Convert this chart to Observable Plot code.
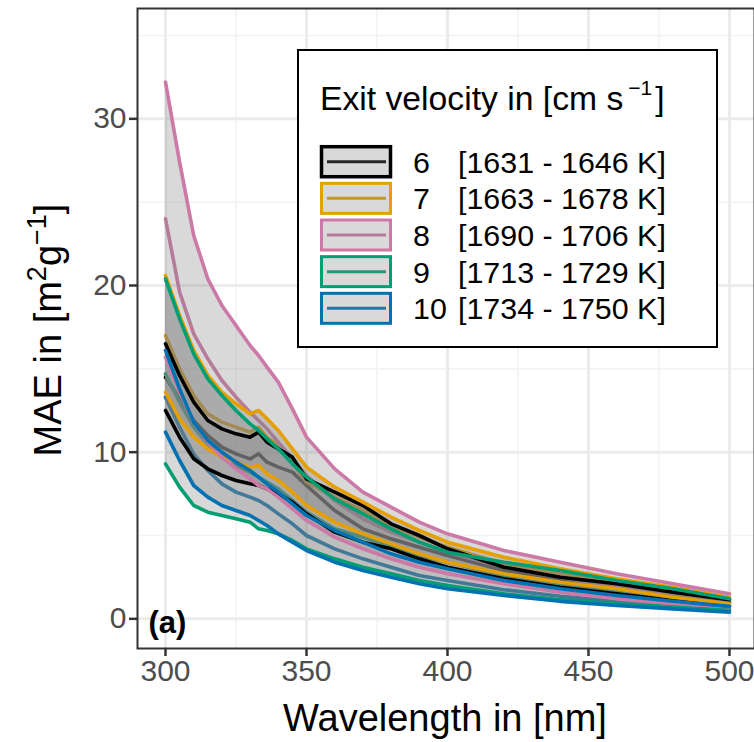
<!DOCTYPE html>
<html><head><meta charset="utf-8">
<script src="https://cdn.jsdelivr.net/npm/d3@7"></script>
<script src="https://cdn.jsdelivr.net/npm/@observablehq/plot@0.6"></script>
<style>
html,body{margin:0;padding:0;background:#fff;}
#chart svg{display:block;}
</style>
</head><body><div id="chart"></div>
<script>
// ---------- data ----------
const wavelength = [300,305,310,315,320,325,330,333,336,340,345,350,360,370,380,390,400,420,440,460,480,500];
const seriesNames = ["6","7","8","9","10"];
const seriesRanges = ["[1631 - 1646 K]","[1663 - 1678 K]","[1690 - 1706 K]","[1713 - 1729 K]","[1734 - 1750 K]"];
const seriesColors = ["#000000","#E69F00","#CC79A7","#009E73","#0072B2"];
const xTicks = [300,350,400,450,500];
const xMinor = [325,375,425,475];
const yTicks = [0,10,20,30];
const yMinor = [5,15,25,35];

const upper6 = [16.5,14.6,13.0,11.9,11.4,11.1,10.9,11.2,10.6,10.2,9.7,8.4,7.6,6.8,5.7,5.0,4.2,3.1,2.5,2.1,1.6,1.15];
const mean6  = [14.5,13.2,11.9,11.0,10.3,9.9,9.6,9.9,9.4,9.1,8.8,8.0,6.5,5.4,4.8,4.3,3.8,2.9,2.3,1.8,1.4,1.0];
const lower6 = [12.5,10.9,9.6,9.0,8.6,8.3,8.1,8.0,7.8,7.5,7.0,6.3,5.2,4.6,4.2,3.6,3.1,2.4,1.9,1.5,1.1,0.8];

const upper7 = [20.6,18.2,16.1,14.6,13.6,12.9,12.3,12.5,12.0,11.3,10.2,9.1,7.9,7.0,6.1,5.3,4.6,3.7,3.0,2.4,1.9,1.3];
const mean7  = [17.0,15.0,13.4,12.3,11.8,11.5,11.2,11.5,10.9,10.4,9.4,8.2,7.3,6.5,5.6,4.9,4.3,3.3,2.7,2.1,1.6,1.15];
const lower7 = [13.6,12.0,10.9,10.2,9.7,9.4,9.1,9.2,8.7,8.3,7.6,6.8,5.8,5.1,4.5,3.9,3.4,2.7,2.2,1.8,1.3,0.9];

const upper8 = [32.2,27.4,23.0,20.4,18.8,17.6,16.4,15.8,15.1,14.2,12.6,10.9,9.0,7.6,6.7,5.8,5.1,4.1,3.4,2.7,2.1,1.5];
const mean8  = [24.0,19.6,17.1,15.6,14.3,13.3,12.4,11.9,11.4,10.6,9.6,8.6,7.1,6.0,5.2,4.6,4.0,3.1,2.5,1.9,1.4,1.0];
const lower8 = [15.7,13.6,11.8,10.6,9.7,9.0,8.4,8.0,7.8,7.3,6.6,5.9,4.9,4.2,3.6,3.1,2.7,2.1,1.6,1.2,0.9,0.7];

const upper9 = [20.4,18.0,15.9,14.4,13.4,12.5,11.7,11.3,10.8,10.2,9.3,8.5,7.2,6.3,5.4,4.6,4.0,3.4,2.9,2.3,1.8,1.2];
const mean9  = [14.7,13.0,11.5,10.5,9.8,9.2,8.8,8.5,8.2,7.8,7.1,6.4,5.4,4.9,4.3,3.8,3.4,2.6,2.1,1.7,1.3,0.95];
const lower9 = [9.3,7.9,6.8,6.4,6.2,6.0,5.8,5.4,5.3,5.1,4.7,4.2,3.6,3.1,2.7,2.3,2.0,1.5,1.15,0.9,0.7,0.5];

const upper10 = [16.1,13.8,11.8,10.7,10.0,9.4,8.9,8.5,8.1,7.6,6.9,6.2,5.3,4.6,3.9,3.4,3.0,2.3,1.8,1.4,1.05,0.75];
const mean10  = [13.3,11.5,9.9,8.9,8.1,7.6,7.3,7.1,6.8,6.3,5.7,5.0,4.2,3.6,3.1,2.6,2.3,1.75,1.35,1.05,0.8,0.6];
const lower10 = [11.2,9.5,8.0,7.3,6.8,6.5,6.2,5.9,5.6,5.1,4.6,4.1,3.4,2.9,2.5,2.1,1.8,1.4,1.05,0.8,0.6,0.4];

const uppers = [upper6, upper7, upper8, upper9, upper10];
const means  = [mean6, mean7, mean8, mean9, mean10];
const lowers = [lower6, lower7, lower8, lower9, lower10];

// ---------- table ----------
const rows = [];
seriesNames.forEach((s, k) => {
  wavelength.forEach((w, i) => rows.push({series: s, nm: w, lo: lowers[k][i], mid: means[k][i], hi: uppers[k][i]}));
});
const bySeries = s => rows.filter(d => d.series === s);

const FONT = "'Liberation Sans', Arial, Helvetica, sans-serif";
const LW = 3.6;

const fillMarks = seriesNames.map(s =>
  Plot.areaY(bySeries(s), {x: "nm", y1: "lo", y2: "hi", fill: "#808080", fillOpacity: 0.3}));
const borderMarks = seriesNames.flatMap(s => [
  Plot.lineY(bySeries(s), {x: "nm", y: "lo", stroke: "series", strokeWidth: LW}),
  Plot.lineY(bySeries(s), {x: "nm", y: "hi", stroke: "series", strokeWidth: LW})
]);

const chart = Plot.plot({
  width: 754, height: 742,
  marginLeft: 137, marginRight: 0, marginTop: 8, marginBottom: 94,
  style: {fontFamily: FONT, background: "#fff", color: "#333"},
  x: {domain: [290.07, 508.87], label: null},
  y: {domain: [-1.78, 36.62], label: null},
  color: {domain: seriesNames, range: seriesColors},
  marks: [
    Plot.ruleX(xMinor, {stroke: "#f3f3f3", strokeWidth: 1.6}),
    Plot.ruleY(yMinor, {stroke: "#f3f3f3", strokeWidth: 1.6}),
    Plot.ruleX(xTicks, {stroke: "#ebebeb", strokeWidth: 3}),
    Plot.ruleY(yTicks, {stroke: "#ebebeb", strokeWidth: 3}),
    Plot.lineY(rows, {x: "nm", y: "mid", z: "series", stroke: "series", strokeWidth: LW}),
    ...fillMarks,
    ...borderMarks,
    Plot.frame({stroke: "#333333", strokeWidth: 2}),
    Plot.axisX(xTicks, {tickSize: 8, tickPadding: 3, fontSize: 30, stroke: "#333", strokeWidth: 2.5, fill: "#4d4d4d", label: null}),
    Plot.axisY(yTicks, {tickSize: 8, tickPadding: 3, fontSize: 30, stroke: "#333", strokeWidth: 2.5, fill: "#4d4d4d", label: null}),
    Plot.text(["(a)"], {frameAnchor: "bottom-left", dx: 11, dy: -16, fontSize: 31, fontWeight: "bold", fill: "#000"})
  ]
});

document.getElementById("chart").appendChild(chart);
const svg = d3.select(chart);

// axis titles
svg.append("text").attr("x", 445).attr("y", 731).attr("text-anchor", "middle")
  .attr("font-size", 38).attr("fill", "#000").attr("font-family", FONT).text("Wavelength in [nm]");

const yt = svg.append("text").attr("transform", "translate(61,330) rotate(-90)")
  .attr("text-anchor", "middle").attr("font-size", 38).attr("fill", "#000").attr("font-family", FONT);
yt.append("tspan").text("MAE in [m");
yt.append("tspan").attr("font-size", 27).attr("dy", -15).text("2");
yt.append("tspan").attr("dy", 15).text("g");
yt.append("tspan").attr("font-size", 27).attr("dy", -15).text("\u22121");
yt.append("tspan").attr("dy", 15).text("]");

// legend
const lg = svg.append("g").attr("font-family", FONT).attr("fill", "#000").attr("text-anchor", "start");
lg.append("rect").attr("x", 298).attr("y", 50).attr("width", 419).attr("height", 297)
  .attr("fill", "#fff").attr("stroke", "#000").attr("stroke-width", 2);
const lt = lg.append("text").attr("x", 320).attr("y", 110).attr("font-size", 33.7).attr("text-anchor", "start");
lt.append("tspan").text("Exit velocity in [cm s");
lt.append("tspan").attr("font-size", 21).attr("dy", -15).attr("dx", 5).text("\u22121");
lt.append("tspan").attr("dy", 15).attr("dx", 3).text("]");

seriesNames.forEach((s, k) => {
  const yc = 161.7 + k * 36.65;
  const col = seriesColors[k];
  lg.append("line").attr("x1", 327).attr("x2", 386).attr("y1", yc).attr("y2", yc)
    .attr("stroke", col).attr("stroke-width", 3);
  lg.append("rect").attr("x", 321.5).attr("y", yc - 15).attr("width", 69).attr("height", 30)
    .attr("fill", "#808080").attr("fill-opacity", 0.3).attr("stroke", col).attr("stroke-width", k === 0 ? 3.5 : 3);
  lg.append("text").attr("x", 413).attr("y", yc + 11).attr("font-size", 30.4).attr("text-anchor", "start").text(s);
  lg.append("text").attr("x", 458).attr("y", yc + 11).attr("font-size", 30.4).attr("text-anchor", "start").text(seriesRanges[k]);
});
</script></body></html>
